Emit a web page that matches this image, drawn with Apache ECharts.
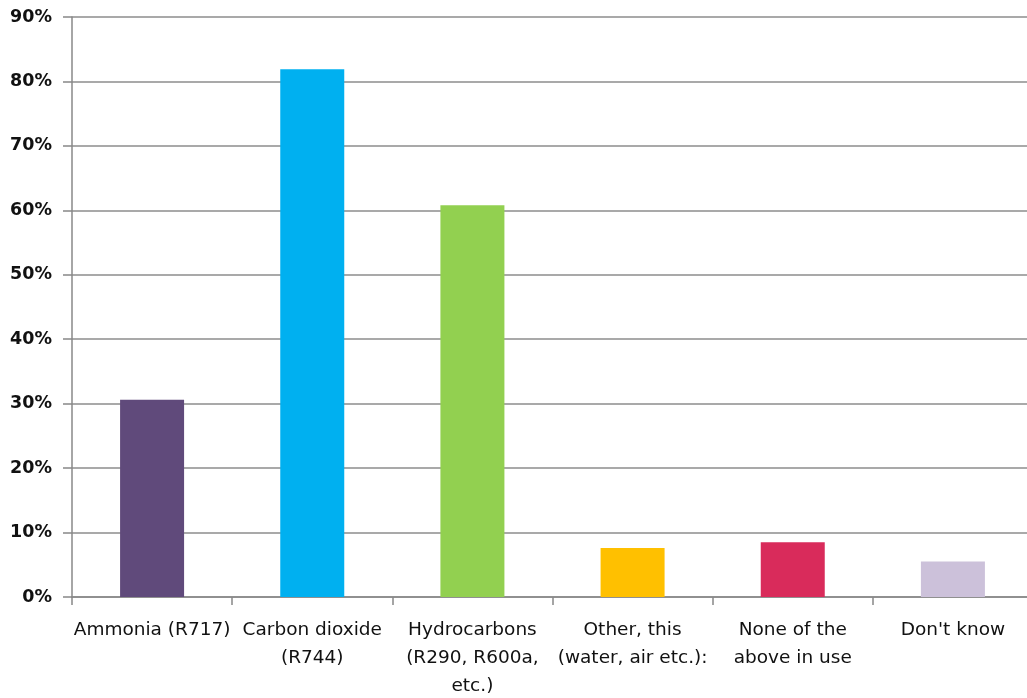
<!DOCTYPE html>
<html>
<head>
<meta charset="utf-8">
<script src="https://cdn.jsdelivr.net/npm/echarts@6/dist/echarts.min.js"></script>
<style>
html,body{margin:0;padding:0;background:#fff;}
#chart{width:1027px;height:698px;}
</style>
</head>
<body>
<div id="chart"></div>
<script>
var categories = ["Ammonia (R717)", "Carbon dioxide (R744)", "Hydrocarbons (R290, R600a, etc.)", "Other, this (water, air etc.):", "None of the above in use", "Don't know"];
var tickLabels = ["Ammonia (R717)", "Carbon dioxide\n(R744)", "Hydrocarbons\n(R290, R600a,\netc.)", "Other, this\n(water, air etc.):", "None of the\nabove in use", "Don't know"];
var values = [30.6, 81.9, 60.8, 7.6, 8.5, 5.5];
var barColors = ["#604A7B", "#00B0F0", "#92D050", "#FFC000", "#D92B5B", "#CCC1DA"];
var yTicks = [0, 10, 20, 30, 40, 50, 60, 70, 80, 90];

var chart = echarts.init(document.getElementById('chart'));
chart.setOption({
  animation: false,
  grid: { left: 72, right: -6, top: 17, bottom: 101, containLabel: false, outerBoundsMode: 'none' },
  xAxis: {
    type: 'category',
    data: categories,
    axisLine: { lineStyle: { color: '#888888', width: 1.5 } },
    axisTick: { show: true, length: 8, alignWithLabel: false, lineStyle: { color: '#888888', width: 1.5 } },
    axisLabel: {
      interval: 0,
      margin: 19,
      color: '#111111',
      fontFamily: 'DejaVu Sans',
      fontSize: 18.5,
      lineHeight: 28,
      formatter: function (v, i) { return tickLabels[i]; }
    }
  },
  yAxis: {
    type: 'value',
    min: yTicks[0],
    max: yTicks[yTicks.length - 1],
    interval: 10,
    axisLine: { show: true, lineStyle: { color: '#888888', width: 1.5 } },
    axisTick: { show: true, length: 9, lineStyle: { color: '#888888', width: 1.5 } },
    splitLine: { lineStyle: { color: '#8c8c8c', width: 1.5 } },
    axisLabel: {
      margin: 20,
      color: '#111111',
      fontFamily: 'DejaVu Sans',
      fontWeight: 'bold',
      fontSize: 17.5,
      formatter: function (v) { return v + '%'; }
    }
  },
  series: [{
    type: 'bar',
    barWidth: 64,
    data: values.map(function (v, i) { return { value: v, itemStyle: { color: barColors[i] } }; })
  }]
});
</script>
</body>
</html>
